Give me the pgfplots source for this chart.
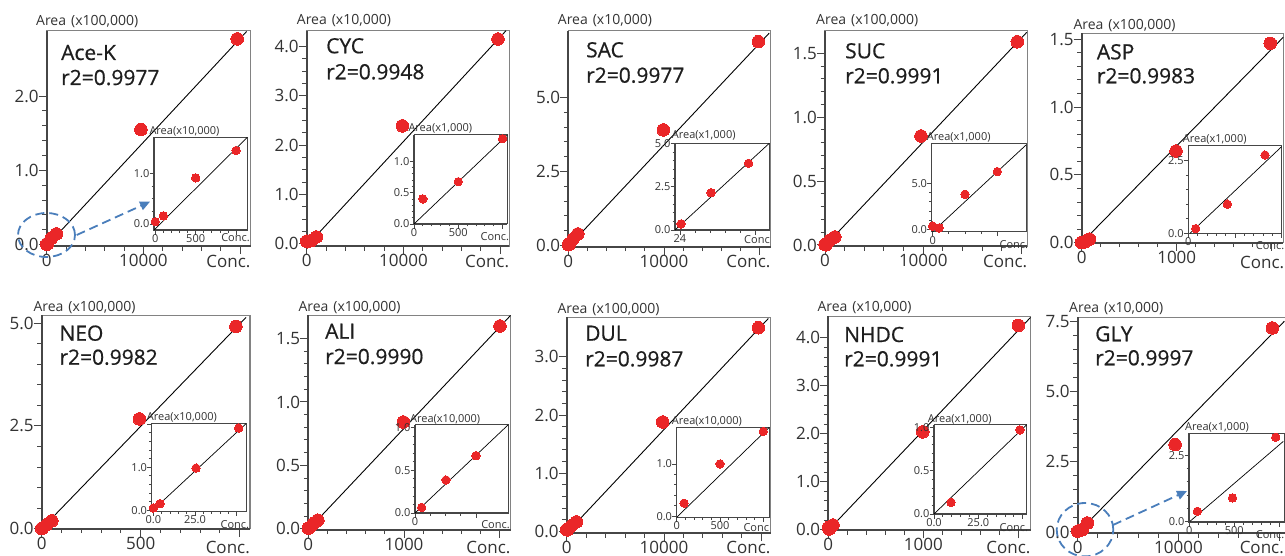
\documentclass[border=0pt]{standalone}
\usepackage{pgfplots}
\pgfplotsset{compat=1.18}
\usetikzlibrary{arrows.meta}
\usepackage{fontspec}
\setmainfont{Open Sans}
\newfontfamily\titlef[FakeBold=0.6]{Open Sans}
\newcommand\ticfont{\fontsize{17}{17}\selectfont}
\newcommand\titfont{\titlef\fontsize{21}{21}\selectfont}
\newcommand\arfont{\fontsize{14}{14}\selectfont}
\newcommand\insfont{\fontsize{11}{11}\selectfont}
\definecolor{dotred}{RGB}{234,38,40}
\definecolor{txt}{RGB}{51,51,51}
\definecolor{titc}{RGB}{30,30,30}
\definecolor{frm}{RGB}{70,70,70}
\definecolor{frl}{RGB}{130,130,130}
\definecolor{dblue}{RGB}{74,126,187}
\pgfplotsset{
 every axis/.append style={scale only axis, anchor=south west, clip mode=individual,
   scaled ticks=false, tick align=outside, xtick pos=bottom, ytick pos=left,
   axis background/.style={fill=white}},
 mainax/.style={axis line style={draw=frl, line width=1.2pt},
   major tick length=8pt, minor tick length=4.5pt,
   tick style={draw=frm, line width=1pt},
   minor x tick num=4, minor y tick num=4,
   xticklabel style={font=\ticfont, text=txt, inner sep=0pt, anchor=north},
   yticklabel style={font=\ticfont, text=txt, inner sep=0pt, anchor=east}},
 insax/.style={axis line style={draw=frm, line width=1pt},
   major tick length=4.5pt, minor tick length=2.5pt,
   tick style={draw=frm, line width=0.8pt},
   minor x tick num=4, minor y tick num=4,
   xticklabel style={font=\insfont, text=txt, inner sep=0pt, anchor=north},
   yticklabel style={font=\insfont, text=txt, inner sep=0pt, anchor=east}},
 regline/.style={black, line width=0.9pt, no marks},
 mdots/.style={color=dotred, only marks, mark=*, mark size=6.3pt, mark options={draw=dotred, fill=dotred, line width=0pt}},
 idots/.style={color=dotred, only marks, mark=*, mark size=4.2pt, mark options={draw=dotred, fill=dotred, line width=0pt}},
}
\newcommand\thick{\draw[frm, line width=2pt] (rel axis cs:0,1) -- (rel axis cs:0,0) -- (rel axis cs:1,0);}
\newcommand\ithick{\draw[frm, line width=1.4pt] (rel axis cs:0,1) -- (rel axis cs:0,0) -- (rel axis cs:1,0);}
\begin{document}
\begin{tikzpicture}
\useasboundingbox (0,0) rectangle (1285pt,-556pt);
\clip (0,0) rectangle (1285pt,-556pt);
% ================= Panel 1 Ace-K
\begin{axis}[mainax, at={(46.7pt,-246pt)}, width=204pt, height=215.3pt,
  xmin=0, xmax=21100, ymin=-0.018, ymax=2.88,
  xtick={0,10000,20000}, xticklabels={0,10000,{}},
  ytick={0,1,2}, yticklabels={0.0,1.0,2.0}]
\thick
\addplot[regline] coordinates {(0,-0.018) (20680,2.87)};
\addplot[mdots] coordinates {(0,0.005) (100,0.016) (500,0.091) (1000,0.145) (9750,1.55) (19700,2.77)};
\end{axis}
\begin{axis}[insax, at={(154pt,-230pt)}, width=93.3pt, height=92.7pt,
  xmin=-16, xmax=1139, ymin=-0.118, ymax=1.71,
  xtick={0,500,1000}, xticklabels={0,500,{}},
  ytick={0,1}, yticklabels={0.0,1.0}, minor y tick num=3]
\ithick
\addplot[regline, line width=0.7pt] coordinates {(-16,-0.118) (1139,1.71)};
\addplot[idots] coordinates {(0,0.046) (100,0.16) (500,0.91) (1000,1.45)};
\end{axis}
% ================= Panel 2 CYC
\begin{axis}[mainax, at={(306.7pt,-246pt)}, width=202.6pt, height=215.3pt,
  xmin=0, xmax=20950, ymin=-0.047, ymax=4.32,
  xtick={0,10000,20000}, xticklabels={0,10000,{}},
  ytick={0,1,2,3,4}, yticklabels={0.0,1.0,2.0,3.0,4.0}, minor y tick num=3]
\thick
\addplot[regline] coordinates {(0,-0.047) (20610,4.32)};
\addplot[mdots] coordinates {(0,0.05) (100,0.04) (500,0.0675) (1000,0.136) (9890,2.39) (19780,4.15)};
\end{axis}
\begin{axis}[insax, at={(414pt,-224pt)}, width=93.3pt, height=89pt,
  xmin=0, xmax=1053, ymin=0, ymax=1.42,
  xtick={0,500,1000}, xticklabels={0,500,{}},
  ytick={0,0.5,1}, yticklabels={0.0,0.5,1.0}]
\ithick
\addplot[regline, line width=0.7pt] coordinates {(0,0) (1053,1.42)};
\addplot[idots] coordinates {(100,0.40) (500,0.675) (1000,1.36)};
\end{axis}
% ================= Panel 3 SAC
\begin{axis}[mainax, at={(568.3pt,-246.7pt)}, width=202.4pt, height=216pt,
  xmin=0, xmax=21150, ymin=-0.047, ymax=7.27,
  xtick={0,10000,20000}, xticklabels={0,10000,{}},
  ytick={0,2.5,5}, yticklabels={0.0,2.5,5.0}]
\thick
\addplot[regline] coordinates {(0,-0.047) (21000,7.19)};
\addplot[mdots] coordinates {(0,0.02) (100,0.035) (500,0.215) (1000,0.385) (9930,3.91) (19860,6.90)};
\end{axis}
\begin{axis}[insax, at={(675pt,-230pt)}, width=94.3pt, height=86.7pt,
  xmin=20, xmax=1276, ymin=0, ymax=5,
  xtick={86,1086}, xticklabels={24,{}},
  ytick={0,2.5,5}, yticklabels={0.0,2.5,5.0}]
\ithick
\addplot[regline, line width=0.7pt] coordinates {(20,0) (1276,5)};
\addplot[idots] coordinates {(100,0.35) (500,2.15) (1000,3.85)};
\end{axis}
% ================= Panel 4 SUC
\begin{axis}[mainax, at={(825pt,-246pt)}, width=202.3pt, height=215.3pt,
  xmin=0, xmax=20580, ymin=-0.008, ymax=1.677,
  xtick={0,10000,20000}, xticklabels={0,10000,{}},
  ytick={0,0.5,1,1.5}, yticklabels={0.0,0.5,1.0,1.5}]
\thick
\addplot[regline] coordinates {(0,-0.008) (20520,1.664)};
\addplot[mdots] coordinates {(0,0.0035) (100,0.0015) (500,0.038) (1000,0.0627) (9760,0.853) (19560,1.59)};
\end{axis}
\begin{axis}[insax, at={(931.7pt,-231.7pt)}, width=94.3pt, height=87.7pt,
  xmin=-15, xmax=1443, ymin=-0.26, ymax=9.27,
  xtick={0,1000}, xticklabels={0,{}}, minor x tick num=3,
  ytick={0,5}, yticklabels={0.0,5.0}]
\ithick
\addplot[regline, line width=0.7pt] coordinates {(0,-0.26) (1443,9.16)};
\addplot[idots] coordinates {(0,0.35) (100,0.15) (500,3.8) (1000,6.27)};
\end{axis}
% ================= Panel 5 ASP
\begin{axis}[mainax, at={(1081.7pt,-242.7pt)}, width=201.6pt, height=209.4pt,
  xmin=0, xmax=2122, ymin=0, ymax=1.544,
  xtick={0,1000,2000}, xticklabels={0,1000,{}},
  ytick={0,0.5,1,1.5}, yticklabels={0.0,0.5,1.0,1.5}]
\thick
\addplot[regline] coordinates {(0,0) (2122,1.515)};
\addplot[mdots] coordinates {(0,0.002) (8,0.0016) (40,0.01) (80,0.0269) (993,0.676) (1985,1.47)};
\end{axis}
\begin{axis}[insax, at={(1188.3pt,-233.3pt)}, width=93.4pt, height=87.6pt,
  xmin=0, xmax=100, ymin=0, ymax=3.01,
  xtick={0,50,100}, xticklabels={0,{},{}},
  ytick={0,2.5}, yticklabels={0.0,2.5}]
\ithick
\addplot[regline, line width=0.7pt] coordinates {(1.8,0) (100,2.98)};
\addplot[idots] coordinates {(7.9,0.16) (41.8,1.0) (82.1,2.69)};
\end{axis}
% ================= Panel 6 NEO
\begin{axis}[mainax, at={(41.7pt,-528.7pt)}, width=208.3pt, height=213.4pt,
  xmin=0, xmax=1052, ymin=0, ymax=5.19,
  xtick={0,500,1000}, xticklabels={0,500,{}},
  ytick={0,2.5,5}, yticklabels={0.0,2.5,5.0}]
\thick
\addplot[regline] coordinates {(0,0) (1032,5.14)};
\addplot[mdots] coordinates {(0,0.0054) (4,0.0155) (25.6,0.098) (51.2,0.191) (493,2.67) (981,4.92)};
\end{axis}
\begin{axis}[insax, at={(151.7pt,-511.3pt)}, width=94.3pt, height=87.6pt,
  xmin=-1, xmax=55.6, ymin=-0.023, ymax=2.01,
  xtick={0,25,50}, xticklabels={0.0,25.0,{}},
  ytick={0,1,2}, yticklabels={0.0,1.0,{}}]
\ithick
\addplot[regline, line width=0.7pt] coordinates {(-1,-0.023) (55.6,2.01)};
\addplot[idots] coordinates {(0,0.054) (4,0.155) (25.6,0.98) (51.2,1.91)};
\end{axis}
% ================= Panel 7 ALI
\begin{axis}[mainax, at={(308.3pt,-529.7pt)}, width=202.4pt, height=214.4pt,
  xmin=0, xmax=2115, ymin=-0.008, ymax=1.684,
  xtick={0,1000,2000}, xticklabels={0,1000,{}},
  ytick={0,0.5,1,1.5}, yticklabels={0.0,0.5,1.0,1.5}]
\thick
\addplot[regline] coordinates {(0,-0.008) (2115,1.684)};
\addplot[mdots] coordinates {(0,0.005) (10,0.0066) (50,0.0387) (100,0.0672) (993,0.842) (2003,1.60)};
\end{axis}
\begin{axis}[insax, at={(415pt,-513pt)}, width=93.3pt, height=88.3pt,
  xmin=0, xmax=153, ymin=0, ymax=1.035,
  xtick={0,100}, xticklabels={0,{}}, minor x tick num=3,
  ytick={0,0.5,1}, yticklabels={0.0,0.5,1.0}]
\ithick
\addplot[regline, line width=0.7pt] coordinates {(0,0) (153,1.035)};
\addplot[idots] coordinates {(10.9,0.066) (50.8,0.387) (100,0.672)};
\end{axis}
% ================= Panel 8 DUL
\begin{axis}[mainax, at={(566.7pt,-533pt)}, width=204pt, height=215.7pt,
  xmin=0, xmax=20960, ymin=-0.029, ymax=3.68,
  xtick={0,10000,20000}, xticklabels={0,10000,{}},
  ytick={0,1,2,3}, yticklabels={0.0,1.0,2.0,3.0}]
\thick
\addplot[regline] coordinates {(0,-0.029) (20720,3.66)};
\addplot[mdots] coordinates {(0,0.03) (85,0.025) (500,0.10) (1000,0.162) (9860,1.88) (19690,3.50)};
\end{axis}
\begin{axis}[insax, at={(676.7pt,-517.3pt)}, width=92.6pt, height=90pt,
  xmin=0, xmax=1069, ymin=-0.019, ymax=1.70,
  xtick={0,500,1000}, xticklabels={0,500,{}},
  ytick={0,1}, yticklabels={0.0,1.0}]
\ithick
\addplot[regline, line width=0.7pt] coordinates {(0,-0.019) (1069,1.70)};
\addplot[idots] coordinates {(85,0.25) (500,1.0) (1000,1.62)};
\end{axis}
% ================= Panel 9 NHDC
\begin{axis}[mainax, at={(828.3pt,-530.3pt)}, width=202.4pt, height=214pt,
  xmin=0, xmax=2130, ymin=-0.013, ymax=4.45,
  xtick={0,1000,2000}, xticklabels={0,1000,{}},
  ytick={0,1,2,3,4}, yticklabels={0.0,1.0,2.0,3.0,4.0}]
\thick
\addplot[regline] coordinates {(0,-0.013) (2130,4.43)};
\addplot[mdots] coordinates {(0,0.04) (10,0.0135) (50,0.097) (994,2.04) (2000,4.26)};
\end{axis}
\begin{axis}[insax, at={(934pt,-514pt)}, width=92.7pt, height=89.3pt,
  xmin=0, xmax=52.3, ymin=0, ymax=1.03,
  xtick={0,25,50}, xticklabels={0.0,25.0,{}},
  ytick={0,0.5,1}, yticklabels={0.0,0.5,1.0}]
\ithick
\addplot[regline, line width=0.7pt] coordinates {(0,0) (52.3,1.03)};
\addplot[idots] coordinates {(9.6,0.135) (48.5,0.97)};
\end{axis}
% ================= Panel 10 GLY
\begin{axis}[mainax, at={(1077.7pt,-533pt)}, width=212.3pt, height=215.7pt,
  xmin=0, xmax=21080, ymin=-0.036, ymax=7.64,
  xtick={0,10000,20000}, xticklabels={0,10000,{}},
  ytick={0,2.5,5,7.5}, yticklabels={0.0,2.5,5.0,7.5}]
\thick
\addplot[regline] coordinates {(0,-0.036) (20520,7.5)};
\addplot[mdots] coordinates {(0,0.03) (90,0.038) (480,0.089) (960,0.32) (9670,3.11) (19330,7.26)};
\end{axis}
\begin{axis}[insax, at={(1189pt,-522pt)}, width=95pt, height=89pt,
  xmin=-3, xmax=1052, ymin=-0.027, ymax=3.36,
  xtick={0,500,1000}, xticklabels={0,500,{}},
  ytick={0,2.5}, yticklabels={0.0,2.5}]
\ithick
\addplot[regline, line width=0.7pt] coordinates {(8,0) (1044,3.04)};
\addplot[idots] coordinates {(90,0.38) (480,0.89) (960,3.2)};
\end{axis}
% ================= texts
\tikzset{tt/.style={anchor=base west, font=\titfont, text=titc, inner sep=0pt},
  ar/.style={anchor=base west, font=\arfont, text=txt, inner sep=0pt},
  ia/.style={anchor=base west, font=\insfont, text=txt, inner sep=0pt},
  cc/.style={anchor=base east, font=\ticfont, text=txt, inner sep=0pt},
  ic/.style={anchor=base east, font=\insfont, text=txt, inner sep=0pt}}
\node[tt] at (61pt,-60pt) {Ace-K};      \node[tt] at (61pt,-85pt) {r2=0.9977};
\node[tt] at (326pt,-53.3pt) {CYC};     \node[tt] at (326pt,-79.3pt) {r2=0.9948};
\node[tt] at (586pt,-57.3pt) {SAC};     \node[tt] at (586pt,-82.7pt) {r2=0.9977};
\node[tt] at (845pt,-58.3pt) {SUC};     \node[tt] at (845pt,-83.3pt) {r2=0.9991};
\node[tt] at (1096.7pt,-59.3pt) {ASP};  \node[tt] at (1096.7pt,-83.3pt) {r2=0.9983};
\node[tt] at (59.3pt,-340.7pt) {NEO};   \node[tt] at (59.3pt,-364.7pt) {r2=0.9982};
\node[tt] at (325pt,-338.7pt) {ALI};    \node[tt] at (325pt,-364pt) {r2=0.9990};
\node[tt] at (585pt,-340.7pt) {DUL};    \node[tt] at (585pt,-366.3pt) {r2=0.9987};
\node[tt] at (844pt,-342pt) {NHDC};     \node[tt] at (844pt,-366.3pt) {r2=0.9991};
\node[tt] at (1095pt,-341.3pt) {GLY};   \node[tt] at (1095pt,-365.3pt) {r2=0.9997};
% area labels
\node[ar] at (36pt,-25.3pt) {Area\hspace{5pt}(x100,000)};
\node[ar] at (296.7pt,-25pt) {Area\hspace{5pt}(x10,000)};
\node[ar] at (557.7pt,-25pt) {Area\hspace{5pt}(x10,000)};
\node[ar] at (816pt,-25pt) {Area\hspace{5pt}(x100,000)};
\node[ar] at (1073.3pt,-29.7pt) {Area\hspace{5pt}(x100,000)};
\node[ar] at (33.3pt,-311.3pt) {Area\hspace{5pt}(x100,000)};
\node[ar] at (298.3pt,-311pt) {Area\hspace{5pt}(x100,000)};
\node[ar] at (557.3pt,-313pt) {Area\hspace{5pt}(x100,000)};
\node[ar] at (817.3pt,-311.7pt) {Area\hspace{5pt}(x10,000)};
\node[ar] at (1069pt,-312pt) {Area\hspace{5pt}(x10,000)};
% Conc labels
\node[cc] at (250.7pt,-267pt) {Conc.};
\node[cc] at (509.3pt,-267pt) {Conc.};
\node[cc] at (770.7pt,-267pt) {Conc.};
\node[cc] at (1027.3pt,-267pt) {Conc.};
\node[cc] at (1284.3pt,-268pt) {Conc.};
\node[cc] at (250pt,-553.5pt) {Conc.};
\node[cc] at (510.7pt,-553.5pt) {Conc.};
\node[cc] at (770.7pt,-553.5pt) {Conc.};
\node[cc] at (1030.7pt,-553.5pt) {Conc.};
\node[cc] at (1284pt,-553.5pt) {Conc.};
% inset area labels
\node[ia] at (149.3pt,-135pt) {Area(x10,000)};
\node[ia] at (408.3pt,-131.7pt) {Area(x1,000)};
\node[ia] at (671.7pt,-138.3pt) {Area(x1,000)};
\node[ia] at (926.7pt,-140.7pt) {Area(x1,000)};
\node[ia] at (1182.7pt,-142.7pt) {Area(x1,000)};
\node[ia] at (146.7pt,-420.7pt) {Area(x10,000)};
\node[ia] at (410pt,-422pt) {Area(x10,000)};
\node[ia] at (671.7pt,-424pt) {Area(x10,000)};
\node[ia] at (927.7pt,-422pt) {Area(x1,000)};
\node[ia] at (1185pt,-430.7pt) {Area(x1,000)};
% inset conc labels
\node[ic] at (250pt,-241.7pt) {Conc.};
\node[ic] at (509.3pt,-240.7pt) {Conc.};
\node[ic] at (770pt,-243.3pt) {Conc};
\node[ic] at (1028.3pt,-248.3pt) {Conc.};
\node[ic] at (1284.5pt,-250pt) {Conc.};
\node[ic] at (249.3pt,-528pt) {Conc.};
\node[ic] at (510pt,-528pt) {Conc.};
\node[ic] at (769.3pt,-531.3pt) {Conc};
\node[ic] at (1028.3pt,-531.3pt) {Conc.};
\node[ic] at (1284.5pt,-538pt) {Conc.};
% blue annotations
\tikzset{bl/.style={draw=dblue, line width=1.8pt, dash pattern=on 9pt off 5pt}}
\draw[bl] (46.5pt,-235pt) ellipse [x radius=28.5pt, y radius=22pt];
\draw[bl, -{Triangle[length=10pt,width=9pt]}] (76.7pt,-235pt) -- (150pt,-201.7pt);
\draw[bl] (1085pt,-529.7pt) ellipse [x radius=28.3pt, y radius=26.7pt];
\draw[bl, -{Triangle[length=10pt,width=9pt]}] (1113pt,-525pt) -- (1187pt,-491pt);
\end{tikzpicture}
\end{document}
